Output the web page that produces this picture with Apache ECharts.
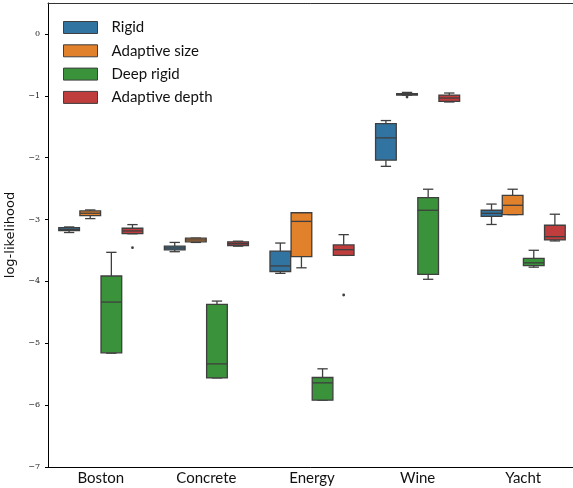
<!DOCTYPE html>
<html>
<head>
<meta charset="utf-8">
<script src="https://cdn.jsdelivr.net/npm/echarts@6/dist/echarts.min.js"></script>
<style>
  html, body { margin: 0; padding: 0; background: #fff; }
  #chart { width: 573px; height: 488px; }
</style>
</head>
<body>
<div id="chart"></div>
<script>
const datasets = ["Boston", "Concrete", "Energy", "Wine", "Yacht"];
const methods = ["Rigid", "Adaptive size", "Deep rigid", "Adaptive depth"];
const colors = ["#3274a1", "#e1812c", "#3a923a", "#c03d3e"];
const yTicks = [-7, -6, -5, -4, -3, -2, -1, 0];

// [min, q1, median, q3, max] per dataset
const rigid = [
  [-3.21, -3.18, -3.16, -3.13, -3.12],
  [-3.52, -3.49, -3.46, -3.43, -3.37],
  [-3.87, -3.84, -3.75, -3.51, -3.38],
  [-2.14, -2.04, -1.68, -1.45, -1.40],
  [-3.08, -2.95, -2.90, -2.85, -2.75]
];
const adaptiveSize = [
  [-2.985, -2.937, -2.898, -2.861, -2.845],
  [-3.37, -3.36, -3.33, -3.30, -3.30],
  [-3.78, -3.60, -3.03, -2.89, -2.89],
  [-0.99, -0.988, -0.977, -0.966, -0.945],
  [-2.92, -2.92, -2.77, -2.61, -2.51]
];
const deepRigid = [
  [-5.16, -5.155, -4.334, -3.913, -3.53],
  [-5.56, -5.56, -5.333, -4.371, -4.318],
  [-5.92, -5.92, -5.64, -5.553, -5.413],
  [-3.966, -3.886, -2.85, -2.645, -2.51],
  [-3.77, -3.746, -3.70, -3.627, -3.497]
];
const adaptiveDepth = [
  [-3.23, -3.228, -3.184, -3.141, -3.082],
  [-3.43, -3.42, -3.39, -3.36, -3.35],
  [-3.58, -3.578, -3.487, -3.411, -3.244],
  [-1.10, -1.091, -1.036, -0.988, -0.955],
  [-3.346, -3.33, -3.277, -3.092, -2.914]
];
// [dataset index, method index, value]
const outliers = [
  [0, 3, -3.455],
  [2, 3, -4.22],
  [3, 1, -1.02]
];

const boxes = [rigid, adaptiveSize, deepRigid, adaptiveDepth];
const edge = "#3f3f3f";

function renderBox(hue) {
  return function (params, api) {
    const cat = api.value(0);
    const band = api.size([1, 0])[0];
    const w = band * 0.2 * 0.98;
    const cx = api.coord([cat, 0])[0] + (hue - 1.5) * band * 0.2;
    const y = (k) => api.coord([cat, api.value(k)])[1];
    const lo = y(1), q1 = y(2), med = y(3), q3 = y(4), hi = y(5);
    const line = { stroke: edge, lineWidth: 1.3 };
    return {
      type: "group",
      children: [
        { type: "line", shape: { x1: cx, y1: q3, x2: cx, y2: hi }, style: line },
        { type: "line", shape: { x1: cx, y1: q1, x2: cx, y2: lo }, style: line },
        { type: "line", shape: { x1: cx - w / 4, y1: hi, x2: cx + w / 4, y2: hi }, style: line },
        { type: "line", shape: { x1: cx - w / 4, y1: lo, x2: cx + w / 4, y2: lo }, style: line },
        {
          type: "rect",
          shape: { x: cx - w / 2, y: q3, width: w, height: q1 - q3 },
          style: { fill: colors[hue], stroke: edge, lineWidth: 1.3 }
        },
        { type: "line", shape: { x1: cx - w / 2, y1: med, x2: cx + w / 2, y2: med }, style: line }
      ]
    };
  };
}

function renderOutlier(params, api) {
  const cat = api.value(0);
  const hue = api.value(1);
  const band = api.size([1, 0])[0];
  const p = api.coord([cat, api.value(2)]);
  return {
    type: "circle",
    shape: { cx: p[0] + (hue - 1.5) * band * 0.2, cy: p[1], r: 1.4 },
    style: { fill: edge }
  };
}

const series = methods.map((name, hue) => ({
  name: name,
  type: "custom",
  renderItem: renderBox(hue),
  itemStyle: { color: colors[hue] },
  encode: { x: 0, y: [1, 2, 3, 4, 5] },
  data: boxes[hue].map((v, i) => [i].concat(v))
}));
series.push({
  type: "custom",
  renderItem: renderOutlier,
  encode: { x: 0, y: 2 },
  data: outliers
});

const chart = echarts.init(document.getElementById("chart"), null, { renderer: "canvas" });
chart.setOption({
  animation: false,
  grid: { left: 48, top: 3, width: 528, height: 464, outerBoundsMode: "none", containLabel: false },
  legend: {
    left: 63, top: 20, orient: "vertical", padding: 0,
    itemWidth: 34, itemHeight: 12, itemGap: 8.3,
    textStyle: { fontFamily: "Lato", fontSize: 15, color: "#111", padding: [0, 0, 0, 9] },
    data: methods.map((name, i) => ({
      name: name, icon: "rect",
      itemStyle: { color: colors[i], borderColor: edge, borderWidth: 1 }
    }))
  },
  xAxis: [
    {
      type: "category",
      data: datasets,
      boundaryGap: true,
      axisLine: { onZero: false, lineStyle: { color: "#000", width: 1 } },
      axisTick: { alignWithLabel: true, length: 3, lineStyle: { color: "#000" } },
      axisLabel: { fontFamily: "Lato", fontSize: 15, color: "#111", margin: 4 },
      splitLine: { show: false }
    },
    {
      type: "category",
      data: datasets,
      position: "top",
      axisLine: { onZero: false, lineStyle: { color: "#333", width: 1 } },
      axisTick: { show: false },
      axisLabel: { show: false },
      splitLine: { show: false }
    }
  ],
  yAxis: {
    type: "value",
    min: -7, max: 0.5,
    name: "log-likelihood",
    nameLocation: "middle",
    nameRotate: 90,
    nameGap: 31,
    nameMoveOverlap: false,
    nameTextStyle: { fontFamily: "DejaVu Sans", fontSize: 13, color: "#111" },
    axisLine: { show: true, onZero: false, lineStyle: { color: "#000", width: 1 } },
    axisTick: { show: true, length: 3, customValues: yTicks, lineStyle: { color: "#000" } },
    axisLabel: {
      customValues: yTicks,
      fontFamily: "DejaVu Serif", fontSize: 8, color: "#222", margin: 8,
      formatter: (v) => (v < 0 ? "\u2212" + Math.abs(v) : String(v))
    },
    splitLine: { show: false }
  },
  series: series
});
</script>
</body>
</html>
